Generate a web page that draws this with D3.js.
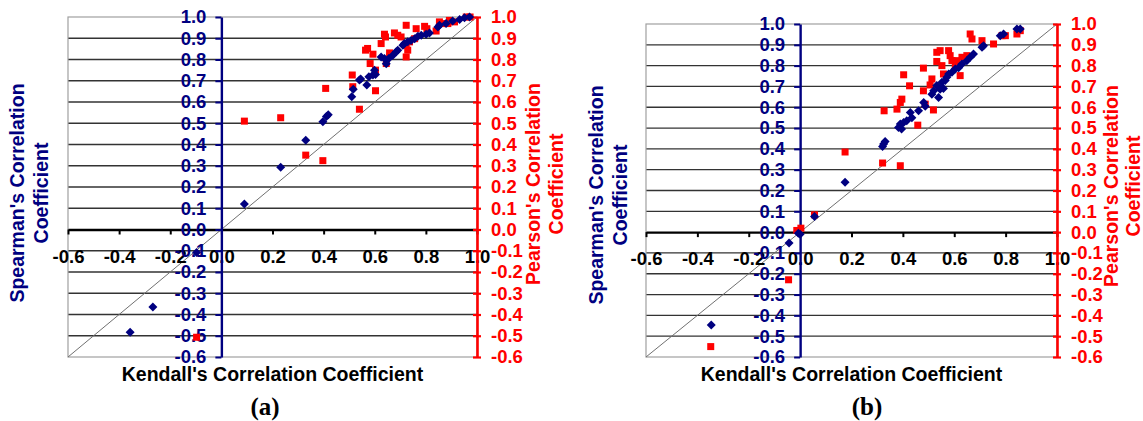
<!DOCTYPE html>
<html>
<head>
<meta charset="utf-8">
<script src="https://cdn.jsdelivr.net/npm/d3@7"></script>
<style>
  html, body { margin: 0; padding: 0; background: #ffffff; }
  svg { display: block; }
</style>
</head>
<body>
<svg id="chart" width="1143" height="421"></svg>
<script>
// ---------------- data ----------------
const xTickValues = [-0.6, -0.4, -0.2, 0.0, 0.2, 0.4, 0.6, 0.8, 1.0];
const xTickLabels = ["-0.6", "-0.4", "-0.2", "0.0", "0.2", "0.4", "0.6", "0.8", "1.0"];
const yTickValues = [-0.6, -0.5, -0.4, -0.3, -0.2, -0.1, 0.0, 0.1, 0.2, 0.3, 0.4, 0.5, 0.6, 0.7, 0.8, 0.9, 1.0];
const yTickLabels = ["-0.6", "-0.5", "-0.4", "-0.3", "-0.2", "-0.1", "0.0", "0.1", "0.2", "0.3", "0.4", "0.5", "0.6", "0.7", "0.8", "0.9", "1.0"];

const xTitle = "Kendall's Correlation Coefficient";
const leftTitle = ["Spearman's Correlation", "Coefficient"];
const rightTitle = ["Pearson's Correlation", "Coefficient"];
const captions = ["(a)", "(b)"];

// panel (a): [Kendall, Spearman]
const spearmanA = [
  [-0.357,-0.484],[-0.268,-0.365],[-0.097,-0.108],[0.09,0.12],[0.232,0.293],[0.33,0.42],
  [0.397,0.507],[0.411,0.532],[0.418,0.54],[0.51,0.625],[0.516,0.66],[0.54,0.703],[0.545,0.708],
  [0.569,0.68],[0.577,0.719],[0.593,0.727],[0.603,0.73],[0.599,0.75],[0.625,0.812],[0.638,0.805],
  [0.645,0.78],[0.655,0.805],[0.671,0.82],[0.684,0.836],[0.69,0.844],[0.71,0.867],[0.716,0.875],
  [0.729,0.883],[0.742,0.89],[0.756,0.898],[0.769,0.909],[0.782,0.914],[0.801,0.919],[0.814,0.925],
  [0.847,0.953],[0.853,0.961],[0.879,0.969],[0.905,0.981],[0.932,0.988],[0.951,0.997],[0.971,1.0]
];
// panel (a): [Kendall, Pearson]
const pearsonA = [
  [0.09,0.51],[0.232,0.526],[0.33,0.35],[0.397,0.324],[0.408,0.664],[-0.097,-0.507],
  [0.512,0.727],[0.514,0.672],[0.54,0.566],[0.603,0.653],[0.564,0.844],[0.572,0.852],[0.593,0.825],
  [0.582,0.781],[0.603,0.75],[0.658,0.831],[0.645,0.781],[0.625,0.875],[0.638,0.919],[0.642,0.906],
  [0.677,0.925],[0.69,0.914],[0.703,0.906],[0.723,0.867],[0.729,0.844],[0.723,0.812],[0.736,0.883],
  [0.723,0.961],[0.762,0.945],[0.756,0.898],[0.795,0.956],[0.804,0.945],[0.84,0.934],[0.853,0.977],
  [0.866,0.969],[0.886,0.969],[0.892,0.984],[0.912,0.977],[0.958,1.0],[0.973,1.0]
];
// panel (b): [Kendall, Spearman]
const spearmanB = [
  [-0.346,-0.446],[-0.043,-0.052],[-0.007,-0.005],[0.0,-0.01],[0.056,0.075],[0.175,0.24],
  [0.321,0.412],[0.325,0.423],[0.331,0.436],[0.383,0.503],[0.39,0.519],[0.395,0.495],[0.403,0.527],
  [0.415,0.535],[0.429,0.575],[0.435,0.55],[0.461,0.583],[0.481,0.623],[0.487,0.605],[0.513,0.663],
  [0.52,0.679],[0.532,0.704],[0.539,0.647],[0.545,0.687],[0.552,0.72],[0.558,0.69],[0.565,0.728],
  [0.571,0.744],[0.578,0.76],[0.591,0.768],[0.604,0.784],[0.617,0.79],[0.63,0.808],[0.649,0.824],
  [0.662,0.84],[0.675,0.856],[0.708,0.888],[0.714,0.896],[0.779,0.944],[0.792,0.952],[0.844,0.976],[0.857,0.976]
];
// panel (b): [Kendall, Pearson]
const pearsonB = [
  [-0.348,-0.55],[-0.045,-0.229],[-0.013,0.008],[0.003,0.019],[0.056,0.083],[0.175,0.385],
  [0.321,0.332],[0.327,0.583],[0.39,0.319],[0.377,0.591],[0.39,0.623],[0.396,0.639],[0.403,0.756],
  [0.426,0.703],[0.458,0.514],[0.48,0.679],[0.48,0.788],[0.487,0.615],[0.506,0.707],[0.513,0.736],
  [0.519,0.587],[0.532,0.864],[0.532,0.82],[0.545,0.872],[0.552,0.8],[0.558,0.76],[0.578,0.872],
  [0.584,0.848],[0.591,0.824],[0.604,0.8],[0.61,0.824],[0.623,0.752],[0.63,0.84],[0.649,0.848],
  [0.662,0.952],[0.669,0.928],[0.708,0.92],[0.753,0.904],[0.786,0.944],[0.799,0.944],[0.844,0.952],[0.857,0.968]
];

// ---------------- drawing ----------------
const NAVY = "#000080", RED = "#ff0000";
const SANS = "'Liberation Sans', Arial, sans-serif";
const svg = d3.select("#chart");
svg.append("rect").attr("width", 1143).attr("height", 421).attr("fill", "#fff");

const panels = [
  { left: 68, right: 477, top: 17, bottom: 357, caption: captions[0], capX: 265,
    lt: [24, 48], ltY: 193, rt: [540, 563], rtY: 184, spearman: spearmanA, pearson: pearsonA },
  { left: 646, right: 1057, top: 24, bottom: 357, caption: captions[1], capX: 867,
    lt: [603, 627], ltY: 195, rt: [1118, 1140], rtY: 186, spearman: spearmanB, pearson: pearsonB }
];

panels.forEach(p => {
  const g = svg.append("g");
  const x = d3.scaleLinear().domain([-0.6, 1.0]).range([p.left, p.right]);
  const y = d3.scaleLinear().domain([-0.6, 1.0]).range([p.bottom, p.top]);

  // gridlines
  g.append("g").selectAll("line")
    .data(yTickValues.filter(v => v !== 0 && v !== 1.0 && v !== -0.6))
    .join("line")
    .attr("x1", x(-0.6)).attr("x2", x(1.0))
    .attr("y1", d => y(d)).attr("y2", d => y(d))
    .attr("stroke", "#333").attr("stroke-width", 1.3);

  // plot border
  g.append("rect")
    .attr("x", x(-0.6)).attr("y", y(1.0))
    .attr("width", x(1.0) - x(-0.6)).attr("height", y(-0.6) - y(1.0))
    .attr("fill", "none").attr("stroke", "#a0a0a0").attr("stroke-width", 1.2);

  // diagonal y = x
  g.append("line")
    .attr("x1", x(-0.6)).attr("y1", y(-0.6)).attr("x2", x(1.0)).attr("y2", y(1.0))
    .attr("stroke", "#707070").attr("stroke-width", 1);

  // x axis (through y = 0)
  const xAxis = g.append("g")
    .attr("transform", `translate(0,${y(0)})`)
    .call(d3.axisBottom(x).tickValues(xTickValues)
      .tickFormat((d, i) => xTickLabels[i]).tickSizeInner(5).tickSizeOuter(0).tickPadding(15));
  xAxis.select(".domain").attr("stroke", "#000").attr("stroke-width", 2.4);
  xAxis.selectAll(".tick line").attr("stroke", "#000").attr("stroke-width", 2);
  xAxis.selectAll("text").attr("fill", "#000")
    .style("font-family", SANS).style("font-weight", "bold").style("font-size", "18.5px");

  // left (Spearman) axis at x = 0
  const lAxis = g.append("g")
    .attr("transform", `translate(${x(0)},0)`)
    .call(d3.axisLeft(y).tickValues(yTickValues)
      .tickFormat((d, i) => yTickLabels[i]).tickSizeInner(6).tickSizeOuter(0).tickPadding(9));
  lAxis.select(".domain").attr("stroke", NAVY).attr("stroke-width", 2.4);
  lAxis.selectAll(".tick line").attr("stroke", NAVY).attr("stroke-width", 2);
  lAxis.selectAll("text").attr("fill", NAVY)
    .style("font-family", SANS).style("font-weight", "bold").style("font-size", "18.5px");

  // right (Pearson) axis at x = 1
  const rAxis = g.append("g")
    .attr("transform", `translate(${x(1.0)},0)`)
    .call(d3.axisRight(y).tickValues(yTickValues)
      .tickFormat((d, i) => yTickLabels[i]).tickSizeInner(4).tickSizeOuter(0).tickPadding(10));
  rAxis.select(".domain").attr("stroke", RED).attr("stroke-width", 2.6);
  rAxis.selectAll(".tick line").attr("x1", -4).attr("stroke", RED).attr("stroke-width", 2.2);
  rAxis.selectAll("text").attr("fill", RED)
    .style("font-family", SANS).style("font-weight", "bold").style("font-size", "18.5px");

  // Pearson markers (squares)
  g.append("g").selectAll("rect")
    .data(p.pearson).join("rect")
    .attr("x", d => x(d[0]) - 3.5).attr("y", d => y(d[1]) - 3.5)
    .attr("width", 7).attr("height", 7).attr("fill", RED);

  // Spearman markers (diamonds)
  g.append("g").selectAll("path")
    .data(p.spearman).join("path")
    .attr("transform", d => `translate(${x(d[0])},${y(d[1])})`)
    .attr("d", "M0,-4.5L4.5,0L0,4.5L-4.5,0Z").attr("fill", NAVY);

  // titles
  g.append("text").text(xTitle)
    .attr("x", (x(-0.6) + x(1.0)) / 2).attr("y", 381)
    .attr("text-anchor", "middle").attr("fill", "#000")
    .style("font-family", SANS).style("font-weight", "bold").style("font-size", "19.5px");

  leftTitle.forEach((t, i) => {
    g.append("text").text(t)
      .attr("transform", `translate(${p.lt[i]},${p.ltY}) rotate(-90)`)
      .attr("text-anchor", "middle").attr("fill", NAVY)
      .style("font-family", SANS).style("font-weight", "bold").style("font-size", "19.5px");
  });
  rightTitle.forEach((t, i) => {
    g.append("text").text(t)
      .attr("transform", `translate(${p.rt[i]},${p.rtY}) rotate(-90)`)
      .attr("text-anchor", "middle").attr("fill", RED)
      .style("font-family", SANS).style("font-weight", "bold").style("font-size", "19.5px");
  });

  g.append("text").text(p.caption)
    .attr("x", p.capX).attr("y", 415)
    .attr("text-anchor", "middle").attr("fill", "#000")
    .style("font-family", "'Liberation Serif', 'Times New Roman', serif")
    .style("font-weight", "bold").style("font-size", "25px");
});
</script>
</body>
</html>
